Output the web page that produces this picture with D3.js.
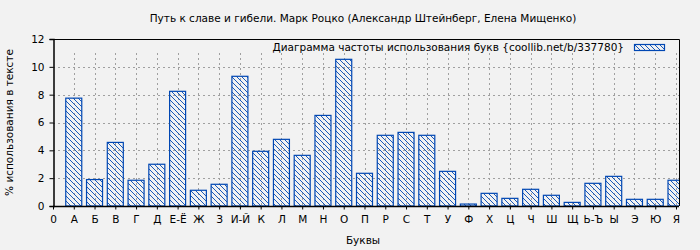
<!DOCTYPE html>
<html>
<head>
<meta charset="utf-8">
<script src="https://cdn.jsdelivr.net/npm/d3@7"></script>
<style>
body { margin: 0; background: #f2f2f2; }
text { font-family: "DejaVu Sans", sans-serif; }
</style>
</head>
<body>
<div id="svg"></div>
<script>
var width = 700, height = 250;

// data
var letters = ["0", "А", "Б", "В", "Г", "Д", "Е-Ё", "Ж", "З", "И-Й", "К", "Л", "М", "Н", "О", "П",
    "Р", "С", "Т", "У", "Ф", "Х", "Ц", "Ч", "Ш", "Щ", "Ь-Ъ", "Ы", "Э", "Ю", "Я"];
var percents = [0, 7.75, 1.9, 4.57, 1.85, 3.0, 8.24, 1.13, 1.56, 9.32, 3.93, 4.79, 3.64, 6.51, 10.54, 2.35,
    5.08, 5.29, 5.08, 2.49, 0.14, 0.91, 0.55, 1.2, 0.77, 0.26, 1.63, 2.13, 0.48, 0.48, 1.85];
var yTicks = [0, 2, 4, 6, 8, 10, 12];

var pLeft = 53, pRight = 679, pTop = 39, pBottom = 206;
var blue = "#0047b3";
var fs = 10.5;

var svg = d3.select('#svg').append('svg')
    .attr('width', width)
    .attr('height', height);

svg.append("rect").attr("width", width).attr("height", height).attr("fill", "#f2f2f2");

var defs = svg.append("defs");
var pat = defs.append("pattern")
    .attr("id", "hatch")
    .attr("patternUnits", "userSpaceOnUse")
    .attr("width", 5).attr("height", 5);
pat.append("path")
    .attr("d", "M-1,-1 L6,6 M-1,4 L1,6 M4,-1 L6,1")
    .attr("stroke", blue)
    .attr("stroke-width", 0.9);

defs.append("clipPath").attr("id", "plotclip")
    .append("rect").attr("x", pLeft).attr("y", pTop - 1)
    .attr("width", pRight - pLeft).attr("height", pBottom - pTop + 2);

var x = d3.scaleLinear().domain([0, 30]).range([pLeft, 676]);
var y = d3.scaleLinear().domain([0, 12]).range([pBottom, pTop]);

// grid (vertical lines stop under the legend band)
var grid = svg.append("g")
    .attr("stroke", "#a0a0a0")
    .attr("stroke-dasharray", "2,3");
grid.selectAll("line.v").data(d3.range(1, letters.length))
    .enter().append("line")
    .attr("x1", function(d) { return Math.round(x(d)) + 0.5; })
    .attr("x2", function(d) { return Math.round(x(d)) + 0.5; })
    .attr("y1", Math.round(y(11))).attr("y2", pBottom);
grid.selectAll("line.h").data(yTicks.slice(1, -1))
    .enter().append("line")
    .attr("x1", pLeft).attr("x2", pRight)
    .attr("y1", function(d) { return Math.round(y(d)) + 0.5; })
    .attr("y2", function(d) { return Math.round(y(d)) + 0.5; });

// bars
var barW = 16;
var bars = percents.map(function(v, i) { return {i: i, v: v}; })
    .filter(function(d) { return d.v > 0; });
svg.append("g").attr("clip-path", "url(#plotclip)")
    .selectAll("rect").data(bars)
    .enter().append("rect")
    .attr("x", function(d) { return x(d.i) - barW / 2; })
    .attr("y", function(d) { return y(d.v); })
    .attr("width", barW)
    .attr("height", function(d) { return pBottom - y(d.v); })
    .attr("fill", "url(#hatch)")
    .attr("stroke", blue)
    .attr("stroke-width", 1.2);

// frame
svg.append("path")
    .attr("d", "M" + pLeft + "," + (pTop + 0.5) + "H" + (pRight + 0.5) + "V" + pBottom)
    .attr("fill", "none").attr("stroke", "#000");

// axes
var yAxis = d3.axisLeft(y).tickValues(yTicks).tickSize(4).tickPadding(5);
var gy = svg.append("g").attr("transform", "translate(" + (pLeft + 0.5) + ",0)").call(yAxis);
var xAxis = d3.axisBottom(x).tickValues(d3.range(letters.length))
    .tickFormat(function(d) { return letters[d]; }).tickSize(3).tickPadding(6);
var gx = svg.append("g").attr("transform", "translate(0," + (pBottom + 0.5) + ")").call(xAxis);
[gy, gx].forEach(function(g) {
    g.select(".domain").attr("stroke", "#000").attr("stroke-width", 1.5);
    g.selectAll(".tick line").attr("stroke", "#000");
    g.selectAll("text").attr("font-size", fs).attr("fill", "#000")
        .attr("font-family", "DejaVu Sans, sans-serif");
});
gx.select(".domain").attr("d", "M" + pLeft + ",0H" + pRight);

// titles
svg.append("text").attr("x", 363).attr("y", 22).attr("text-anchor", "middle")
    .attr("font-size", fs).attr("fill", "#000")
    .text("Путь к славе и гибели. Марк Роцко (Александр Штейнберг, Елена Мищенко)");
svg.append("text").attr("x", 363).attr("y", 244).attr("text-anchor", "middle")
    .attr("font-size", fs).attr("fill", "#000").text("Буквы");
svg.append("text").attr("transform", "translate(13," + ((pTop + pBottom) / 2) + ") rotate(-90)")
    .attr("text-anchor", "middle").attr("font-size", fs).attr("fill", "#000")
    .text("% использования в тексте");

// legend
svg.append("text").attr("x", 624).attr("y", 51).attr("text-anchor", "end")
    .attr("font-size", fs).attr("fill", "#000")
    .text("Диаграмма частоты использования букв {coollib.net/b/337780}");
svg.append("rect").attr("x", 634.5).attr("y", 44.5).attr("width", 30).attr("height", 6)
    .attr("fill", "url(#hatch)").attr("stroke", blue).attr("stroke-width", 1.2);
</script>
</body>
</html>
